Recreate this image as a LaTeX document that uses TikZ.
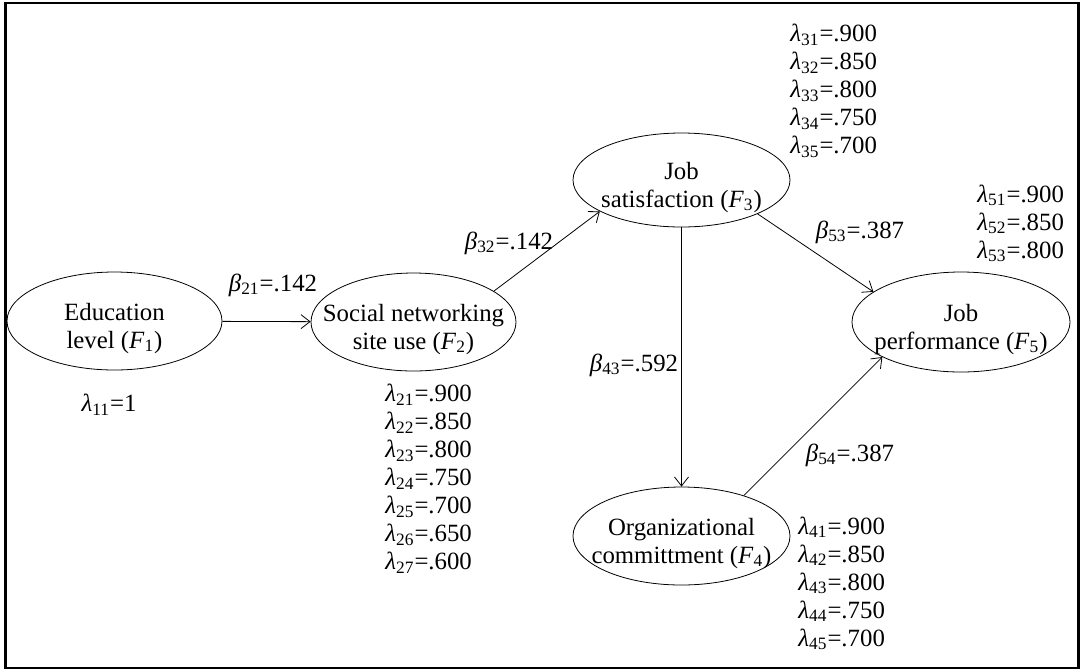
\documentclass[tikz,border=0pt]{standalone}
\usepackage{fontspec}
\setmainfont{Liberation Serif}
\usetikzlibrary{arrows.meta, shapes.geometric}
\newcommand{\lmb}[1]{\textit{λ}\textsubscript{#1}}
\newcommand{\bcoef}[1]{\textit{β}\textsubscript{#1}}
\newcommand{\fct}[1]{(\textit{F}\textsubscript{#1})}
\newcommand{\tup}{\rule{0pt}{16pt}}
\begin{document}
\begin{tikzpicture}[x=0.5pt,y=-0.5pt,>={Straight Barb[length=4.5pt,width=7pt]},
  every node/.style={font=\fontsize{12.4}{14}\selectfont},
  factor/.style={draw, ellipse, thin, inner xsep=-20pt, inner ysep=-6pt, minimum height=49pt, align=center},
  loads/.style={align=left, inner sep=0pt, anchor=west}]
\useasboundingbox (0,0) rectangle (1081,671);
\draw[line width=1.1pt] (5.5,3) rectangle (1078.5,668);
% latent factors
\node[factor, minimum width=107.5pt] (edu) at (114.5,321) {\tup Education\\level \fct{1}};
\node[factor, minimum width=102.5pt] (snsu) at (413.5,322) {\tup Social networking\\site use \fct{2}};
\node[factor, minimum width=108.5pt, minimum height=47pt] (jsat) at (681.5,180) {\tup Job\\satisfaction \fct{3}};
\node[factor, minimum width=109pt, minimum height=50pt] (jperf) at (961,322) {\tup Job\\performance \fct{5}};
\node[factor, minimum width=108.5pt] (ocom) at (681.5,536) {\tup Organizational\\committment \fct{4}};
% paths
\draw[->] (edu) -- (snsu);
\draw[->] (snsu.21) -- (jsat.201);
\draw[->] (jsat) -- (ocom);
\draw[->] (jsat.336) -- (jperf.161);
\draw[->] (ocom.33) -- (jperf.204);
% coefficients
\node (b21) at (273,285) {\bcoef{21}=.142};
\node (b32) at (509,243) {\bcoef{32}=.142};
\node (b53) at (860,232) {\bcoef{53}=.387};
\node (b43) at (634,365) {\bcoef{43}=.592};
\node (b54) at (850,455) {\bcoef{54}=.387};
% loadings
\node (l1) at (109,405) {\lmb{11}=1};
\node[loads] (l2) at (385,479) {\lmb{21}=.900\\\lmb{22}=.850\\\lmb{23}=.800\\\lmb{24}=.750\\\lmb{25}=.700\\\lmb{26}=.650\\\lmb{27}=.600};
\node[loads] (l3) at (790,91) {\lmb{31}=.900\\\lmb{32}=.850\\\lmb{33}=.800\\\lmb{34}=.750\\\lmb{35}=.700};
\node[loads] (l5) at (977,223.5) {\lmb{51}=.900\\\lmb{52}=.850\\\lmb{53}=.800};
\node[loads] (l4) at (798,583.5) {\lmb{41}=.900\\\lmb{42}=.850\\\lmb{43}=.800\\\lmb{44}=.750\\\lmb{45}=.700};
\end{tikzpicture}
\end{document}
